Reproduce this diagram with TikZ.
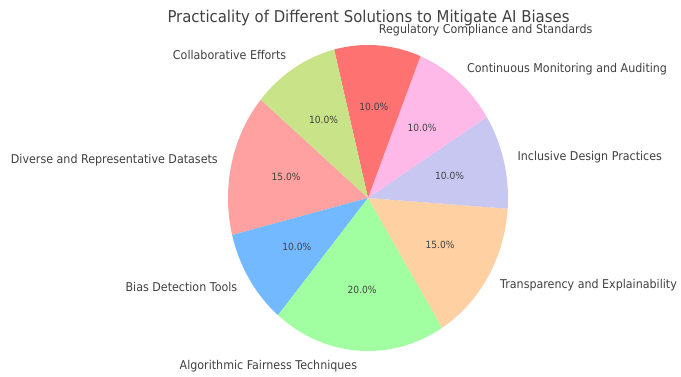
\documentclass[tikz,border=0pt]{standalone}
\usepackage{fontspec}
\usepackage{graphicx}
\setmainfont{DejaVu Sans}
\usetikzlibrary{calc}
\definecolor{cA0}{HTML}{FF9999}
\definecolor{cB0}{HTML}{66B3FF}
\definecolor{cC0}{HTML}{99FF99}
\definecolor{cD0}{HTML}{FFCC99}
\definecolor{cE0}{HTML}{C2C2F0}
\definecolor{cF0}{HTML}{FFB3E6}
\definecolor{cG0}{HTML}{FF6666}
\definecolor{cH0}{HTML}{C4E17F}
\colorlet{cA}{cA0!92!white}
\colorlet{cB}{cB0!92!white}
\colorlet{cC}{cC0!92!white}
\colorlet{cD}{cD0!92!white}
\colorlet{cE}{cE0!92!white}
\colorlet{cF}{cF0!92!white}
\colorlet{cG}{cG0!92!white}
\colorlet{cH}{cH0!92!white}
\definecolor{txt}{HTML}{404040}
\newcommand{\vst}[1]{\scalebox{1}[1.093]{#1}}
\begin{document}
\begin{tikzpicture}[x=1pt,y=1pt,
  lbl/.style={font=\fontsize{11.1}{13}\selectfont, text=txt, inner sep=0pt},
  pct/.style={font=\fontsize{9.1}{11}\selectfont, text=txt, inner sep=0pt},
  ttl/.style={font=\fontsize{14.9}{17}\selectfont, text=txt, inner sep=0pt},
  wedge/.style={draw=none}]
\useasboundingbox (0,0) rectangle (681,376);
\coordinate (c) at (368,178);
% wedges
\foreach \a/\b/\col in {140/194/cA, 194/230/cB, 230/302/cC, 302/356/cD, 356/392/cE, 392/428/cF, 428/464/cG, 464/500/cH}
  \fill[wedge,\col] (c) -- ++(\a:140pt and 153pt) arc[start angle=\a, end angle=\b, x radius=140pt, y radius=153pt] -- cycle;
% labels
\node[lbl,anchor=east] (lA) at ($(c)+(167:154pt and 168.3pt)$) {\vst{Diverse and Representative Datasets}};
\node[lbl,anchor=east] (lB) at ($(c)+(212:154pt and 168.3pt)$) {\vst{Bias Detection Tools}};
\node[lbl,anchor=east] (lC) at ($(c)+(266:154pt and 168.3pt)$) {\vst{Algorithmic Fairness Techniques}};
\node[lbl,anchor=west] (lD) at ($(c)+(329:154pt and 168.3pt)$) {\vst{Transparency and Explainability}};
\node[lbl,anchor=west] (lE) at ($(c)+(14:154pt and 168.3pt)$) {\vst{Inclusive Design Practices}};
\node[lbl,anchor=west] (lF) at ($(c)+(50:154pt and 168.3pt)$) {\vst{Continuous Monitoring and Auditing}};
\node[lbl,anchor=west] (lG) at ($(c)+(86:154pt and 168.3pt)$) {\vst{Regulatory Compliance and Standards}};
\node[lbl,anchor=east] (lH) at ($(c)+(122:154pt and 168.3pt)$) {\vst{Collaborative Efforts}};
% percentages
\node[pct] (pA) at ($(c)+(167:84pt and 91.8pt)$) {\vst{15.0\%}};
\node[pct] (pB) at ($(c)+(212:84pt and 91.8pt)$) {\vst{10.0\%}};
\node[pct] (pC) at ($(c)+(266:84pt and 91.8pt)$) {\vst{20.0\%}};
\node[pct] (pD) at ($(c)+(329:84pt and 91.8pt)$) {\vst{15.0\%}};
\node[pct] (pE) at ($(c)+(14:84pt and 91.8pt)$) {\vst{10.0\%}};
\node[pct] (pF) at ($(c)+(50:84pt and 91.8pt)$) {\vst{10.0\%}};
\node[pct] (pG) at ($(c)+(86:84pt and 91.8pt)$) {\vst{10.0\%}};
\node[pct] (pH) at ($(c)+(122:84pt and 91.8pt)$) {\vst{10.0\%}};
% title
\node[ttl] (title) at (368.5,358) {\vst{Practicality of Different Solutions to Mitigate AI Biases}};
\end{tikzpicture}
\end{document}
